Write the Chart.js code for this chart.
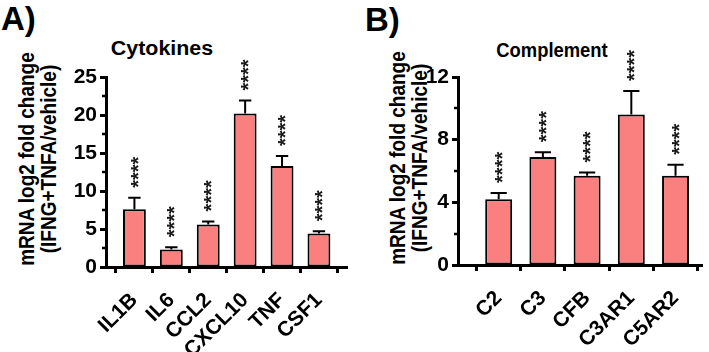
<!DOCTYPE html>
<html><head><meta charset="utf-8">
<script src="https://cdn.jsdelivr.net/npm/chart.js@4.4.1/dist/chart.umd.min.js"></script>
<style>
body{margin:0;background:#fff;width:709px;height:352px;overflow:hidden;position:relative;font-family:"Liberation Sans",Arial,sans-serif;font-weight:bold;color:#000}
canvas{position:absolute;top:0}
.panel{position:absolute;font-size:33px;line-height:33px}
.title{position:absolute;font-size:20px;line-height:20px;white-space:nowrap}
.ylab{position:absolute;font-size:19px;line-height:18px;text-align:center;white-space:nowrap;transform:translate(-50%,-50%) scale(1.2,1) rotate(-90deg)}
</style></head>
<body>
<div class="panel" style="left:1px;top:2px">A)</div>
<div class="panel" style="left:365px;top:3px">B)</div>
<div class="title" style="left:162px;top:38px;transform:translateX(-50%) scaleX(1.07)">Cytokines</div>
<div class="title" style="left:552px;top:40px;transform:translateX(-50%) scaleX(0.92)">Complement</div>
<div class="ylab" style="left:38px;top:159px">mRNA log2 fold change<br>(IFNG+TNFA/vehicle)</div>
<div class="ylab" style="left:409px;top:158px">mRNA log2 fold change<br>(IFNG+TNFA/vehicle)</div>
<canvas id="c1" width="355" height="352" style="left:0"></canvas>
<canvas id="c2" width="354" height="352" style="left:355px"></canvas>
<script>
// ---- data ----
const cytoCats  = ['IL1B','IL6','CCL2','CXCL10','TNF','CSF1'];
const cytoMean  = [7.6, 2.3, 5.6, 20.2, 13.3, 4.4];
const cytoSem   = [1.5, 0.3, 0.4, 1.7, 1.3, 0.3];
const cytoStars = ['****','****','****','****','****','****'];
const cytoTicks = [0, 5, 10, 15, 20, 25];

const compCats  = ['C2','C3','CFB','C3AR1','C5AR2'];
const compMean  = [4.2, 6.9, 5.7, 9.6, 5.7];
const compSem   = [0.4, 0.3, 0.2, 1.5, 0.7];
const compStars = ['****','****','****','****','****'];
const compTicks = [0, 4, 8, 12];

const FAM = '"Liberation Sans", Arial, sans-serif';

const decor = {
  id: 'decor',
  afterDatasetsDraw(chart, args, o) {
    const ctx = chart.ctx, xs = chart.scales.x, ys = chart.scales.y;
    const meta = chart.getDatasetMeta(0);
    ctx.save();
    ctx.strokeStyle = '#000';
    // minor ticks on y axis
    ctx.lineWidth = 2.5;
    for (let k = 0; k < o.ticks.length - 1; k++) {
      const v = (o.ticks[k] + o.ticks[k + 1]) / 2;
      const py = Math.round(ys.getPixelForValue(v));
      ctx.beginPath(); ctx.moveTo(xs.left - 4, py); ctx.lineTo(xs.left, py); ctx.stroke();
    }
    meta.data.forEach((bar, i) => {
      const cx = bar.x;
      const top = ys.getPixelForValue(o.mean[i] + o.sem[i]);
      const half = bar.width * o.cap;
      ctx.lineWidth = 2;
      ctx.beginPath();
      ctx.moveTo(cx, bar.y); ctx.lineTo(cx, top);
      ctx.moveTo(cx - half, top); ctx.lineTo(cx + half, top);
      ctx.stroke();
      const fs = o.starSize;
      ctx.save();
      ctx.translate(cx + 0.23 * fs, top - o.gap);
      ctx.rotate(-Math.PI / 2);
      ctx.font = 'bold ' + fs + 'px ' + FAM;
      ctx.fillStyle = '#1a1a1a';
      ctx.textAlign = 'left';
      ctx.textBaseline = 'middle';
      ctx.fillText(o.stars[i], 0, 0);
      ctx.restore();
    });
    ctx.restore();
  }
};

function makeChart(id, cats, mean, sem, stars, ticks, cfg) {
  return new Chart(document.getElementById(id), {
    type: 'bar',
    data: {
      datasets: [{
        data: cats.map((c, i) => ({ x: i, y: mean[i] })),
        backgroundColor: '#FA8080',
        borderColor: '#000',
        borderWidth: 2,
        borderSkipped: false,
        barPercentage: cfg.barPct,
        categoryPercentage: 1
      }]
    },
    options: {
      responsive: false,
      animation: false,
      devicePixelRatio: 1,
      layout: { padding: { top: 77, left: 0, right: cfg.padRight, bottom: 0 } },
      plugins: {
        legend: { display: false },
        tooltip: { enabled: false },
        decor: { mean, sem, stars, ticks, cap: cfg.cap, gap: 10, starSize: 20 }
      },
      scales: {
        x: {
          type: 'linear', min: cfg.xMin, max: cfg.xMax, offset: false,
          afterBuildTicks: s => { s.ticks = cats.map((c, i) => ({ value: i })); },
          afterFit: s => { s.height = cfg.xHeight; },
          ticks: {
            callback: v => cats[v], autoSkip: false, maxRotation: 45, minRotation: 45,
            font: { family: FAM, size: 21, weight: 'bold' }, color: '#000', padding: 15
          },
          grid: { drawOnChartArea: false, drawTicks: true, tickLength: 6, tickWidth: 3, tickColor: '#000' },
          border: { display: true, color: '#000', width: 3 }
        },
        y: {
          min: 0, max: ticks[ticks.length - 1],
          afterBuildTicks: s => { s.ticks = ticks.map(v => ({ value: v })); },
          afterFit: s => { s.width = cfg.yWidth; },
          ticks: { font: { family: FAM, size: 21, weight: 'bold' }, color: '#000', padding: 3 },
          grid: { drawOnChartArea: false, drawTicks: true, tickLength: 6, tickWidth: 3, tickColor: '#000' },
          border: { display: true, color: '#000', width: 3 }
        }
      }
    },
    plugins: [decor]
  });
}

makeChart('c1', cytoCats, cytoMean, cytoSem, cytoStars, cytoTicks,
  { xMin: -0.77, xMax: 5.76, xHeight: 85, yWidth: 106, padRight: 8, barPct: 0.62, cap: 0.27 });
makeChart('c2', compCats, compMean, compSem, compStars, compTicks,
  { xMin: -0.92, xMax: 4.6, xHeight: 87, yWidth: 103, padRight: 6, barPct: 0.61, cap: 0.3 });
</script>
</body></html>
